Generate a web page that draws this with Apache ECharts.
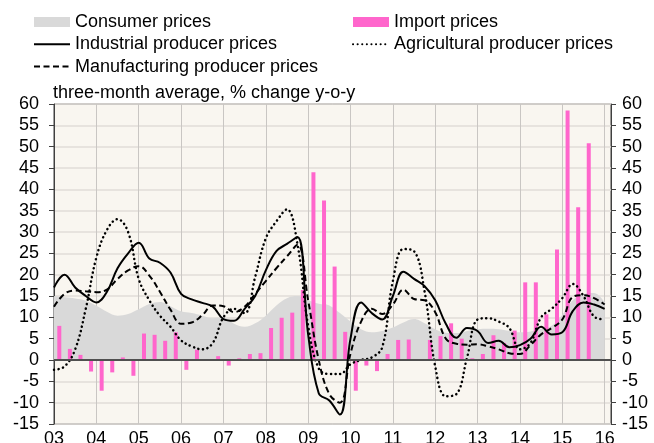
<!DOCTYPE html>
<html>
<head>
<meta charset="utf-8">
<script src="https://cdn.jsdelivr.net/npm/echarts@6.0.0/dist/echarts.min.js"></script>
<style>
html,body{margin:0;padding:0;background:#fff;}
#chart{width:654px;height:443px;}
</style>
</head>
<body>
<div id="chart"></div>
<script>
// quarterly data, starting 2003 Q1
const startYear = 2003;
const yearLabels = ['03','04','05','06','07','08','09','10','11','12','13','14','15','16'];
const consumerPrices = [15.0,14.7,14.4,13.9,12.7,11.3,10.4,10.8,11.9,13.1,13.6,12.6,11.4,11.0,10.4,9.8,10.0,8.5,7.8,8.6,10.4,12.8,14.5,15.0,14.0,13.2,12.8,11.0,9.0,7.2,6.5,6.8,7.6,8.8,9.6,8.6,7.2,6.4,6.3,6.8,7.2,7.3,7.2,6.8,6.5,6.7,7.3,8.0,10.6,14.0,15.4,15.7,13.5];
const importPrices = [8.0,2.6,1.2,-2.7,-7.2,-2.9,0.6,-3.7,6.2,5.9,4.5,6.5,-2.3,2.4,0,0.9,-1.3,0.4,1.4,1.6,7.5,9.9,11.1,16.4,44.0,37.4,21.9,6.6,-7.2,-1.3,-2.6,1.4,4.7,4.8,0,4.7,5.6,8.6,5.0,0.4,1.4,5.8,4.0,6.9,18.2,18.2,10.7,25.9,58.5,35.8,50.8];
const industrialPP = [17.0,20.0,17.0,15.0,13.5,16.0,21.5,25.0,27.5,23.8,22.8,20.5,15.5,14.2,13.4,12.5,9.6,9.2,12.0,15.0,21.0,25.5,27.2,28.8,6.0,-7.8,-9.5,-12.8,5.0,13.5,11.0,9.5,15.0,20.7,19.0,17.3,14.0,8.5,5.2,7.5,6.8,4.0,4.5,3.0,3.5,5.0,7.8,6.0,6.5,11.5,13.5,13.0,12.0];
const manufacturingPP = [12.5,15.5,16.3,16.1,15.9,16.5,19.0,21.0,22.0,19.8,16.0,11.8,8.5,8.8,10.5,12.8,12.6,11.2,12.5,15.5,18.5,21.5,24.3,27.0,14.0,0.0,-8.0,-10.0,1.5,9.0,12.0,10.8,13.0,16.5,14.3,14.0,11.2,5.0,3.8,3.6,3.7,3.2,2.5,1.6,1.4,3.5,6.0,7.5,9.5,14.8,15.2,14.5,13.0];
const agriculturalPP = [-2.3,-1.5,2.5,12.0,24.0,30.5,33.0,30.0,19.0,14.0,10.4,7.8,4.6,3.2,2.5,4.0,10.0,12.0,11.0,19.5,28.5,32.5,35.3,27.0,8.0,-2.0,-3.3,-3.3,-1.0,0.0,0.6,3.0,18.5,26.0,25.5,16.0,-1.5,-8.5,-8.0,0.5,9.5,9.8,9.0,7.5,2.5,4.0,10.0,12.0,14.5,17.8,15.0,10.2,9.5];

const FONT = '"Liberation Sans", Arial, sans-serif';
const qStart = arr => arr.map((v, i) => [startYear + i / 4, v]);
const qMid = arr => arr.map((v, i) => [startYear + i / 4 + 0.125, v]);

const chart = echarts.init(document.getElementById('chart'), null, {renderer: 'canvas'});
const legendText = {fontSize: 18, color: '#000', fontFamily: FONT};
const yAxisBase = {
  type: 'value', min: -15, max: 60, interval: 5,
  axisLine: {show: true, lineStyle: {color: '#404040', width: 1}},
  axisTick: {show: true, length: 5, lineStyle: {color: '#404040'}},
  axisLabel: {fontSize: 18, color: '#000', fontFamily: FONT},
  splitLine: {show: false}
};
const noSymbol = 'rgba(0,0,0,0)';
chart.setOption({
  animation: false,
  backgroundColor: '#ffffff',
  title: {
    text: 'three-month average, % change y-o-y',
    left: 53, top: 84, padding: 0,
    textStyle: {fontSize: 18, fontWeight: 'normal', color: '#000', fontFamily: FONT}
  },
  legend: [
    {
      left: 33, top: 13, orient: 'vertical', itemWidth: 36, itemHeight: 10, itemGap: 4.3,
      selectedMode: false, padding: 0, textStyle: legendText,
      data: [{name: 'Consumer prices', icon: 'rect'}, {name: 'Industrial producer prices'}, {name: 'Manufacturing producer prices'}]
    },
    {
      left: 352, top: 13, orient: 'vertical', itemWidth: 36, itemHeight: 10, itemGap: 4.3,
      selectedMode: false, padding: 0, textStyle: legendText,
      data: [{name: 'Import prices', icon: 'rect'}, {name: 'Agricultural producer prices'}]
    }
  ],
  grid: {
    left: 54, right: 43, top: 104, bottom: 19,
    outerBoundsMode: 'none', containLabel: false,
    show: true, backgroundColor: '#F9F6F0', borderColor: '#404040', borderWidth: 1
  },
  xAxis: {
    type: 'value', min: startYear, max: 2016.15, interval: 1,
    axisLine: {show: false},
    axisTick: {show: false},
    axisLabel: {
      fontSize: 18, color: '#000', fontFamily: FONT, margin: 6,
      showMaxLabel: false,
      formatter: v => {
        const k = Math.round(v - startYear);
        return Math.abs(v - startYear - k) < 1e-6 ? (yearLabels[k] || '') : '';
      }
    },
    splitLine: {show: true, lineStyle: {color: '#C9C6C3', width: 1}}
  },
  yAxis: [
    Object.assign({}, yAxisBase, {position: 'left', axisLabel: Object.assign({}, yAxisBase.axisLabel, {margin: 15}),
      splitLine: {show: true, lineStyle: {color: '#E0DCD8', width: 1.5}}}),
    Object.assign({}, yAxisBase, {position: 'right', axisLabel: Object.assign({}, yAxisBase.axisLabel, {margin: 11})})
  ],
  series: [
    {
      name: 'Consumer prices', type: 'line', data: qStart(consumerPrices),
      smooth: 0.4, symbol: 'none', lineStyle: {width: 0},
      itemStyle: {color: '#D9D9D9'}, areaStyle: {color: '#D9D9D9', opacity: 1}, z: 1
    },
    {
      name: 'Import prices', type: 'bar', data: qMid(importPrices), barWidth: 4,
      itemStyle: {color: '#FF66CC'}, z: 2,
      markLine: {
        silent: true, symbol: ['none', 'none'], label: {show: false},
        lineStyle: {color: '#505050', width: 2, type: 'solid'},
        data: [{yAxis: 0}]
      }
    },
    {
      name: 'Agricultural producer prices', type: 'line', data: qStart(agriculturalPP),
      smooth: 0.4, symbol: 'none', itemStyle: {color: noSymbol},
      lineStyle: {color: '#000', width: 2.5, type: [0.1, 4.5], cap: 'round'}, z: 3
    },
    {
      name: 'Manufacturing producer prices', type: 'line', data: qStart(manufacturingPP),
      smooth: 0.4, symbol: 'none', itemStyle: {color: noSymbol},
      lineStyle: {color: '#000', width: 2, type: [6, 3.5]}, z: 4
    },
    {
      name: 'Industrial producer prices', type: 'line', data: qStart(industrialPP),
      smooth: 0.4, symbol: 'none', itemStyle: {color: noSymbol},
      lineStyle: {color: '#000', width: 2}, z: 5
    }
  ]
});
</script>
</body>
</html>
